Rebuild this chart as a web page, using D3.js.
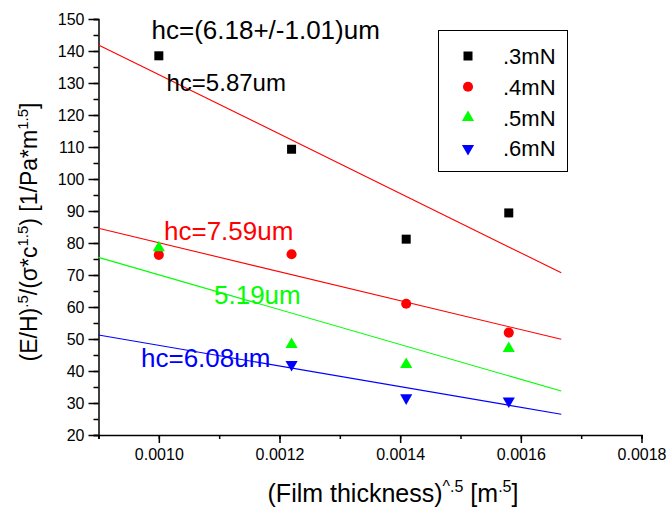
<!DOCTYPE html>
<html lang="en">
<head>
  <meta charset="UTF-8">
  <title>hc fit</title>
  <script src="https://d3js.org/d3.v7.min.js"></script>
  <style>
    body { margin: 0; background: #fff; font-family: "Liberation Sans", Arial, sans-serif; }
    .tick text { font-family: "Liberation Sans", Arial, sans-serif; font-size: 16px; fill: #000; }
    .axis path, .axis line { stroke: #000; stroke-width: 1.5px; }
  </style>
</head>
<body>
  <svg width="669" height="508"></svg>
  <script>
    // Daten
    const xVals = [0.0010, 0.00122, 0.00141, 0.00158];
    const seriesNames = [".3mN", ".4mN", ".5mN", ".6mN"];
    const s03 = [138.5, 109.3, 81.2, 89.4];
    const s04 = [76.3, 76.5, 61.0, 52.0];
    const s05 = [78.5, 48.3, 42.0, 47.0];
    const s06 = [null, 42.0, 31.6, 30.6];

    // Fit-Geraden (Anfang/Ende)
    const fitX = [0.0009, 0.001667];
    const fit03 = [141.9, 70.7];
    const fit04 = [84.6, 49.9];
    const fit05 = [75.5, 33.75];
    const fit06 = [51.25, 26.5];

    const xTicks = [0.0010, 0.0012, 0.0014, 0.0016, 0.0018];
    const yTicks = [20, 30, 40, 50, 60, 70, 80, 90, 100, 110, 120, 130, 140, 150];

    const svg = d3.select("svg");
    const x = d3.scaleLinear().domain([0.0009, 0.0018]).range([98.5, 641.5]);
    const y = d3.scaleLinear().domain([20, 150]).range([435, 19]);

    // Achsen
    svg.append("g").attr("class", "axis")
      .attr("transform", "translate(0,435)")
      .call(d3.axisBottom(x).tickValues(d3.range(9, 19).map(d => d / 10000)).tickSize(4).tickFormat(""));
    svg.append("g").attr("class", "axis")
      .attr("transform", "translate(0,435)")
      .call(d3.axisBottom(x).tickValues(xTicks).tickSize(8).tickPadding(6).tickFormat(d3.format(".4f")))
      .select(".domain").remove();

    svg.append("g").attr("class", "axis")
      .attr("transform", "translate(98.5,0)")
      .call(d3.axisLeft(y).tickValues(d3.range(20, 151, 5)).tickSize(5).tickFormat(""));
    svg.append("g").attr("class", "axis")
      .attr("transform", "translate(98.5,0)")
      .call(d3.axisLeft(y).tickValues(yTicks).tickSize(10).tickPadding(4))
      .select(".domain").remove();

    // Fit-Linien
    const fits = [
      { vals: fit03, color: "#ff0000" },
      { vals: fit04, color: "#ff0000" },
      { vals: fit05, color: "#00ff00" },
      { vals: fit06, color: "#0000ff" }
    ];
    svg.selectAll(".fit").data(fits).join("line")
      .attr("class", "fit")
      .attr("x1", x(fitX[0])).attr("x2", x(fitX[1]))
      .attr("y1", d => y(d.vals[0])).attr("y2", d => y(d.vals[1]))
      .attr("stroke", d => d.color).attr("stroke-width", 1.1);

    // Punkte
    const series = [
      { name: seriesNames[0], vals: s03, color: "#000000", sym: d3.symbolSquare, size: 81, rot: 0 },
      { name: seriesNames[1], vals: s04, color: "#ff0000", sym: d3.symbolCircle, size: 80, rot: 0 },
      { name: seriesNames[2], vals: s05, color: "#00ff00", sym: d3.symbolTriangle, size: 64, rot: 0 },
      { name: seriesNames[3], vals: s06, color: "#0000ff", sym: d3.symbolTriangle, size: 64, rot: 180 }
    ];
    series.forEach(s => {
      const pts = xVals.map((xv, i) => ({ x: xv, y: s.vals[i] })).filter(p => p.y != null);
      svg.append("g").selectAll("path").data(pts).join("path")
        .attr("d", d3.symbol(s.sym, s.size))
        .attr("fill", s.color)
        .attr("transform", d => `translate(${x(d.x)},${y(d.y)}) rotate(${s.rot})`);
    });

    // Legende
    const leg = svg.append("g");
    leg.append("rect").attr("x", 438.5).attr("y", 30.5).attr("width", 129).attr("height", 141)
      .attr("fill", "none").attr("stroke", "#000").attr("stroke-width", 1);
    series.forEach((s, i) => {
      const ly = 56 + i * 30.8;
      leg.append("path").attr("d", d3.symbol(s.sym, s.size))
        .attr("fill", s.color).attr("transform", `translate(468,${ly}) rotate(${s.rot})`);
      leg.append("text").attr("x", 503).attr("y", ly + 8)
        .attr("font-size", 22).text(s.name);
    });

    // Beschriftungen
    const notes = [
      { t: "hc=(6.18+/-1.01)um", x: 151.5, y: 39, c: "#000", f: 26 },
      { t: "hc=5.87um", x: 166.5, y: 91, c: "#000", f: 24 },
      { t: "hc=7.59um", x: 164, y: 240, c: "#ff0000", f: 26 },
      { t: "5.19um", x: 214, y: 304, c: "#00ff00", f: 26 },
      { t: "hc=6.08um", x: 141, y: 367, c: "#0000ff", f: 26 }
    ];
    svg.selectAll(".note").data(notes).join("text")
      .attr("class", "note")
      .attr("x", d => d.x).attr("y", d => d.y)
      .attr("fill", d => d.c).attr("font-size", d => d.f)
      .text(d => d.t);

    // Achsentitel
    const xl = svg.append("text").attr("x", 393).attr("y", 502)
      .attr("text-anchor", "middle").attr("font-size", 25);
    xl.append("tspan").text("(Film thickness)");
    xl.append("tspan").attr("font-size", 16).attr("dy", -10).text("^.5");
    xl.append("tspan").attr("dy", 10).text(" [m");
    xl.append("tspan").attr("font-size", 16).attr("dy", -10).text(".5");
    xl.append("tspan").attr("dy", 10).text("]");

    const yl = svg.append("text").attr("transform", "translate(37,232) rotate(-90)")
      .attr("text-anchor", "middle").attr("font-size", 23);
    yl.append("tspan").text("(E/H)");
    yl.append("tspan").attr("font-size", 15).attr("dy", -9).text(".5");
    yl.append("tspan").attr("dy", 9).text("/(σ*c");
    yl.append("tspan").attr("font-size", 15).attr("dy", -9).text("1.5");
    yl.append("tspan").attr("dy", 9).text(") [1/Pa*m");
    yl.append("tspan").attr("font-size", 15).attr("dy", -9).text("1.5");
    yl.append("tspan").attr("dy", 9).text("]");
  </script>
</body>
</html>
